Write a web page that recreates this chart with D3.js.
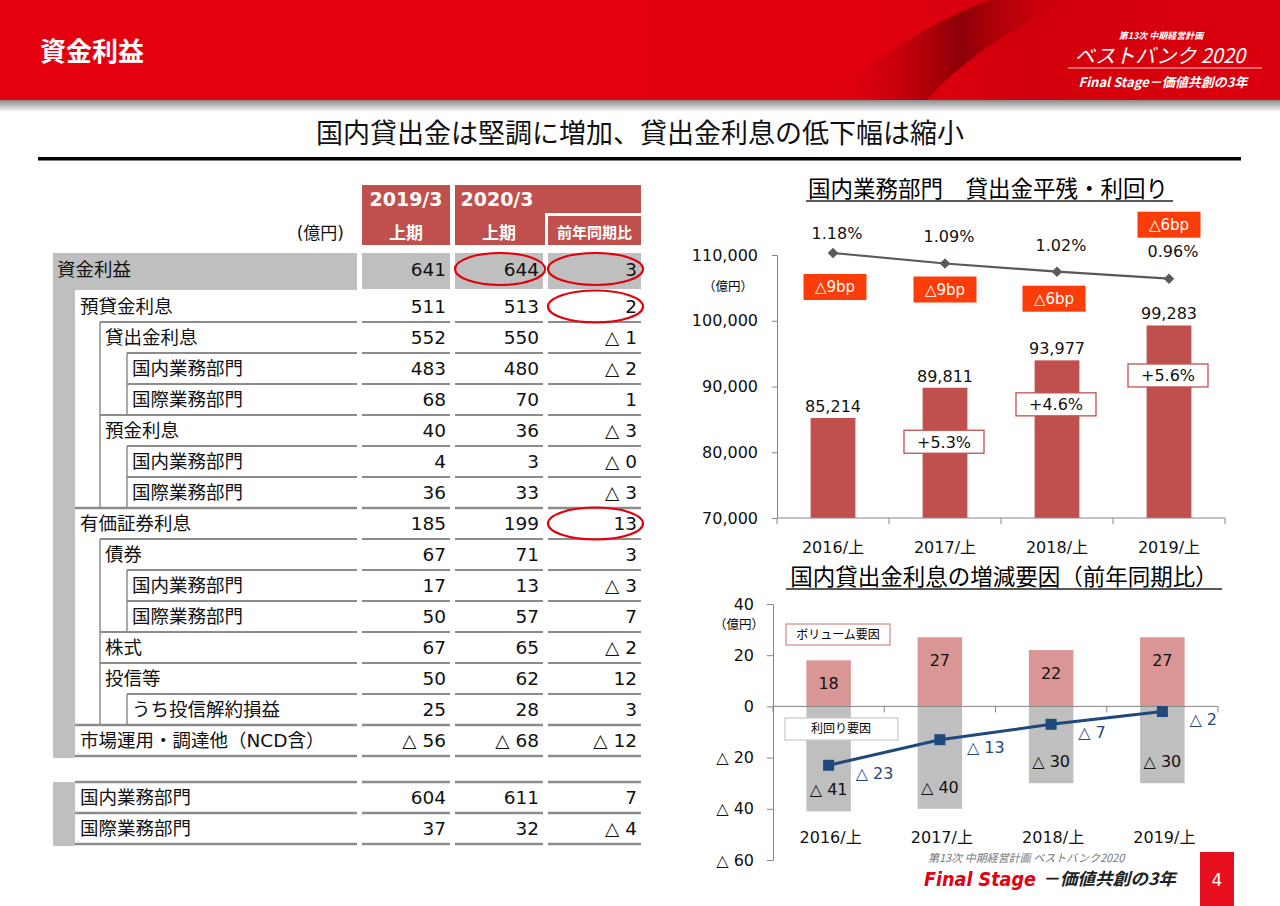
<!DOCTYPE html>
<html><head><meta charset="utf-8">
<script src="https://cdn.jsdelivr.net/npm/d3@7"></script>
<style>
body{margin:0;background:#fff;}
svg{display:block;font-family:"DejaVu Sans","Noto Sans CJK JP",sans-serif;}
</style>
</head><body>
<svg id="c" width="1280" height="906"></svg>
<script>
// ---------------- DATA ----------------
const pageTitle = "資金利益";
const headline = "国内貸出金は堅調に増加、貸出金利息の低下幅は縮小";

// table
const rowLabels = ["資金利益","預貸金利息","貸出金利息","国内業務部門","国際業務部門","預金利息","国内業務部門","国際業務部門","有価証券利息","債券","国内業務部門","国際業務部門","株式","投信等","うち投信解約損益","市場運用・調達他（NCD含）","国内業務部門","国際業務部門"];
const rowLevels = [0,1,2,3,3,2,3,3,1,2,3,3,2,2,3,1,1,1];
const fy2019H1 = [641,511,552,483,68,40,4,36,185,67,17,50,67,50,25,-56,604,37];
const fy2020H1 = [644,513,550,480,70,36,3,33,199,71,13,57,65,62,28,-68,611,32];
const yoyChange = [3,2,-1,-2,1,-3,-0,-3,13,3,-3,7,-2,12,3,-12,7,-4];
const highlighted = [[0,1],[0,2],[1,2],[8,2]]; // [row, column] circled

// chart 1
const periods = ["2016/上","2017/上","2018/上","2019/上"];
const loanBalance = [85214, 89811, 93977, 99283];
const loanYield = [1.18, 1.09, 1.02, 0.96];
const yieldChangeBp = [-9, -9, -6, -6];
const balanceGrowth = [null, 5.3, 4.6, 5.6];
const balanceTicks = [70000, 80000, 90000, 100000, 110000];

// chart 2
const volumeFactor = [18, 27, 22, 27];
const yieldFactor = [-41, -40, -30, -30];
const netChange = [-23, -13, -7, -2];
const factorTicks = [40, 20, 0, -20, -40, -60];

// ---------------- HELPERS ----------------
const tri = v => (v < 0 || Object.is(v, -0)) ? "△ " + Math.abs(v) : String(v);
const svg = d3.select("#c");
const defs = svg.append("defs");

// ---------------- HEADER ----------------
const hg = defs.append("linearGradient").attr("id","hdr").attr("x1",0).attr("x2",1).attr("y1",0).attr("y2",0);
hg.append("stop").attr("offset","0").attr("stop-color","#e5000f");
hg.append("stop").attr("offset","0.68").attr("stop-color","#e3000e");
hg.append("stop").attr("offset","0.8").attr("stop-color","#d2000c");
hg.append("stop").attr("offset","1").attr("stop-color","#dc000e");
svg.append("rect").attr("width",1280).attr("height",102).attr("fill","url(#hdr)");
const sw = defs.append("linearGradient").attr("id","sw").attr("x1",0).attr("x2",1).attr("y1",0).attr("y2",0);
sw.append("stop").attr("offset","0").attr("stop-color","#e3000e").attr("stop-opacity",0);
sw.append("stop").attr("offset","0.55").attr("stop-color","#7e0006").attr("stop-opacity",0.85);
sw.append("stop").attr("offset","1").attr("stop-color","#c4000b").attr("stop-opacity",0);
svg.append("path").attr("d","M 820 102 C 870 62, 930 22, 990 0 L 1075 0 C 1010 28, 960 62, 925 102 Z").attr("fill","url(#sw)");
const sh = defs.append("linearGradient").attr("id","sh").attr("x1",0).attr("x2",0).attr("y1",0).attr("y2",1);
sh.append("stop").attr("offset","0").attr("stop-color","#8a8a8a");
sh.append("stop").attr("offset","1").attr("stop-color","#f4f4f4");
svg.append("rect").attr("y",100).attr("width",1280).attr("height",11).attr("fill","url(#sh)");

svg.append("text").attr("x",40).attr("y",61).attr("fill","#fff").attr("font-size",26).attr("font-weight","bold")
  .attr("font-family","Noto Sans CJK JP").text(pageTitle);

const logo = svg.append("g").attr("fill","#fff").attr("font-family","Noto Sans CJK JP").attr("font-style","italic").attr("font-weight","bold");
logo.append("text").attr("x",1161).attr("y",39).attr("text-anchor","middle").attr("font-size",9).text("第13次 中期経営計画");
logo.append("text").attr("x",1160).attr("y",63).attr("text-anchor","middle").attr("font-size",20).attr("font-weight","normal").text("ベストバンク 2020");
svg.append("line").attr("x1",1068).attr("x2",1262).attr("y1",68).attr("y2",68).attr("stroke","#fff").attr("stroke-width",1.2).attr("opacity",0.8);
logo.append("text").attr("x",1163).attr("y",87).attr("text-anchor","middle").attr("font-size",13).text("Final Stage－価値共創の3年");

// headline
svg.append("text").attr("x",640).attr("y",143).attr("text-anchor","middle").attr("font-size",27)
  .attr("font-family","Noto Sans CJK JP").attr("fill","#111").text(headline);
svg.append("rect").attr("x",38).attr("y",157).attr("width",1203).attr("height",3.5).attr("fill","#000");

// ---------------- TABLE ----------------
const T = svg.append("g").attr("font-size",18.5).attr("fill","#111");
const RED = "#c0504d";
const cols = [{x:362,w:88},{x:455,w:88},{x:548,w:93}];
const labelRight = 357;
const edges = [53, 75, 100, 127];
const rowTop = i => i === 0 ? 253 : (i <= 15 ? 291 + (i-1)*31 : 782 + (i-16)*31);
const rowH = i => i === 0 ? 37 : 31;
const rowMid = i => i === 0 ? 269 : rowTop(i) + rowH(i)/2;

// header cells
T.append("rect").attr("x",cols[0].x).attr("y",185).attr("width",cols[0].w).attr("height",60).attr("fill",RED);
T.append("rect").attr("x",cols[1].x).attr("y",185).attr("width",cols[2].x+cols[2].w-cols[1].x).attr("height",60).attr("fill",RED);
T.append("path").attr("d",`M ${cols[2].x-1.5} 246 L ${cols[2].x-1.5} 214.5 L ${cols[2].x+cols[2].w} 214.5`).attr("fill","none").attr("stroke","#fff").attr("stroke-width",3);
const hdr = T.append("g").attr("fill","#fff").attr("font-weight","bold").attr("text-anchor","middle");
hdr.append("text").attr("x",cols[0].x+cols[0].w/2).attr("y",206).attr("font-size",19).text("2019/3");
hdr.append("text").attr("x",cols[1].x+42).attr("y",206).attr("font-size",19).text("2020/3");
hdr.append("text").attr("x",cols[0].x+cols[0].w/2).attr("y",239).attr("font-size",17).attr("font-family","Noto Sans CJK JP").text("上期");
hdr.append("text").attr("x",cols[1].x+cols[1].w/2).attr("y",239).attr("font-size",17).attr("font-family","Noto Sans CJK JP").text("上期");
hdr.append("text").attr("x",cols[2].x+cols[2].w/2).attr("y",238).attr("font-size",15).attr("font-family","Noto Sans CJK JP").text("前年同期比");
T.append("text").attr("x",344).attr("y",239).attr("text-anchor","end").attr("font-size",17).text("(億円)");

// gray backgrounds
const GRAY = "#bfbfbf";
T.append("rect").attr("x",53).attr("y",253).attr("width",22).attr("height",rowTop(15)+31-253+2).attr("fill",GRAY);
T.append("rect").attr("x",53).attr("y",253).attr("width",labelRight-53).attr("height",37).attr("fill",GRAY);
cols.forEach(c => T.append("rect").attr("x",c.x).attr("y",253).attr("width",c.w).attr("height",36).attr("fill",GRAY));
T.append("rect").attr("x",53).attr("y",rowTop(16)).attr("width",22).attr("height",rowTop(17)+31-rowTop(16)+2).attr("fill",GRAY);

// grid lines
const LINE = "#8c8c8c";
const hline = (x1,x2,y,w) => T.append("line").attr("x1",x1).attr("x2",x2).attr("y1",y).attr("y2",y).attr("stroke",LINE).attr("stroke-width",w);
const vline = (x,y1,y2) => T.append("line").attr("x1",x).attr("x2",x).attr("y1",y1).attr("y2",y2).attr("stroke",LINE).attr("stroke-width",1.5);
rowLabels.forEach((lab,i) => {
  if (i < 2) return;
  const y = rowTop(i);
  const w = rowLevels[i] === 1 ? 2.5 : 1.8;
  hline(edges[rowLevels[i]], labelRight, y, w);
  cols.forEach(c => hline(c.x, c.x+c.w, y, w));
  if (rowLevels[i] >= 2) vline(edges[2], y, y+31);
  if (rowLevels[i] >= 3) vline(edges[3], y, y+31);
});
[rowTop(15)+31, rowTop(17)+31].forEach(y => {
  hline(edges[1], labelRight, y, 2.5);
  cols.forEach(c => hline(c.x, c.x+c.w, y, 2.5));
});

// row text
rowLabels.forEach((lab,i) => {
  const lv = rowLevels[i];
  const y = rowMid(i);
  T.append("text").attr("x", edges[lv] + (lv === 0 ? 4 : 5)).attr("y",y).attr("dy","0.36em").text(lab);
  [fy2019H1[i], fy2020H1[i], yoyChange[i]].forEach((v,k) => {
    T.append("text").attr("x",cols[k].x+cols[k].w-4).attr("y",y).attr("dy","0.36em").attr("text-anchor","end").text(tri(v));
  });
});

// red ellipses
highlighted.forEach(([r,c]) => {
  T.append("ellipse").attr("cx",cols[c].x+cols[c].w/2+1).attr("cy",rowMid(r)).attr("rx",cols[c].w/2+1).attr("ry",16)
    .attr("fill","none").attr("stroke","#e3000b").attr("stroke-width",2.2);
});

// ---------------- CHART 1 ----------------
const C1 = svg.append("g");
const AX = "#868686";
C1.append("text").attr("x",988).attr("y",197).attr("text-anchor","middle").attr("font-size",22.5).attr("font-family","Noto Sans CJK JP").text("国内業務部門　貸出金平残・利回り");
C1.append("line").attr("x1",806).attr("x2",1173).attr("y1",201).attr("y2",201).attr("stroke","#595959").attr("stroke-width",2);

const x1 = d3.scaleBand().domain(periods).range([777,1225]).paddingInner(0.6).paddingOuter(0.3);
const y1 = d3.scaleLinear().domain([70000,110000]).range([518,255]);
const yr = d3.scaleLinear().domain([-1.09,1.18]).range([518,253]);
const cx1 = d => x1(d) + x1.bandwidth()/2;

C1.selectAll("rect.bar").data(loanBalance).join("rect").attr("class","bar")
  .attr("x",(d,i)=>x1(periods[i])).attr("width",x1.bandwidth())
  .attr("y",d=>y1(d)).attr("height",d=>y1(70000)-y1(d)).attr("fill",RED);

const ya1 = C1.append("g").attr("transform","translate(777,0)")
  .call(d3.axisLeft(y1).tickValues(balanceTicks).tickFormat(d3.format(",")).tickSize(5).tickPadding(14));
ya1.attr("font-size",16).attr("font-family",null);
ya1.selectAll("path,line").attr("stroke",AX);
ya1.selectAll("text").attr("fill","#111");
const xa1 = C1.append("g").attr("transform","translate(0,518)")
  .call(d3.axisBottom(x1).tickSize(0).tickPadding(24));
xa1.attr("font-size",16).attr("font-family",null);
xa1.select(".domain").attr("stroke",AX).attr("d","M777,0H1225");
xa1.selectAll("text").attr("fill","#111");
d3.range(periods.length+1).forEach(i => {
  const x = x1.range()[0] + i*x1.step();
  C1.append("line").attr("x1",x).attr("x2",x).attr("y1",518).attr("y2",524).attr("stroke",AX);
});
C1.append("text").attr("x",728).attr("y",291).attr("text-anchor","middle").attr("font-size",12.5).attr("font-family","Noto Sans CJK JP").text("（億円）");

// value labels
C1.selectAll("text.val").data(loanBalance).join("text").attr("class","val")
  .attr("x",(d,i)=>cx1(periods[i])).attr("y",d=>y1(d)-6).attr("text-anchor","middle").attr("font-size",16).attr("fill","#111")
  .text(d3.format(","));

// growth boxes
const growthDy = [0, 54, 44, 50];
balanceGrowth.forEach((g,i) => {
  if (g === null) return;
  const cx = cx1(periods[i]) - 1, cy = y1(loanBalance[i]) + growthDy[i];
  C1.append("rect").attr("x",cx-40).attr("y",cy-11.5).attr("width",80).attr("height",23).attr("fill","#fff").attr("stroke",RED).attr("stroke-width",1.3);
  C1.append("text").attr("x",cx).attr("y",cy).attr("dy","0.36em").attr("text-anchor","middle").attr("font-size",16).attr("fill","#111").text("+" + g.toFixed(1) + "%");
});

// yield line
const line1 = d3.line().x((d,i)=>cx1(periods[i])).y(d=>yr(d));
C1.append("path").datum(loanYield).attr("d",line1).attr("fill","none").attr("stroke","#595959").attr("stroke-width",2.2);
C1.selectAll("path.dia").data(loanYield).join("path").attr("class","dia")
  .attr("d",d3.symbol(d3.symbolSquare,56))
  .attr("transform",(d,i)=>`translate(${cx1(periods[i])},${yr(d)}) rotate(45)`).attr("fill","#595959");
const pctDy = [-20, -27, -26, -27];
C1.selectAll("text.pct").data(loanYield).join("text").attr("class","pct")
  .attr("x",(d,i)=>cx1(periods[i])+4).attr("y",(d,i)=>yr(d)+pctDy[i]).attr("dy","0.36em").attr("text-anchor","middle")
  .attr("font-size",16).attr("fill","#111").text(d=>d.toFixed(2)+"%");
const bpDy = [34, 26, 27, -54];
yieldChangeBp.forEach((b,i) => {
  const cx = cx1(periods[i]) + (i===0?2:0) - (i===2?3:0), cy = yr(loanYield[i]) + bpDy[i];
  C1.append("rect").attr("x",cx-31.5).attr("y",cy-13).attr("width",63).attr("height",26).attr("fill","#fc3d0a");
  C1.append("text").attr("x",cx).attr("y",cy).attr("dy","0.36em").attr("text-anchor","middle").attr("font-size",15).attr("fill","#fff").text("△" + Math.abs(b) + "bp");
});

// ---------------- CHART 2 ----------------
const C2 = svg.append("g");
C2.append("text").attr("x",1004).attr("y",585).attr("text-anchor","middle").attr("font-size",22.5).attr("font-family","Noto Sans CJK JP").text("国内貸出金利息の増減要因（前年同期比）");
C2.append("line").attr("x1",786).attr("x2",1222).attr("y1",589).attr("y2",589).attr("stroke","#595959").attr("stroke-width",2);

const x2 = d3.scaleBand().domain(periods).range([773,1218]).paddingInner(0.6).paddingOuter(0.3);
const y2 = d3.scaleLinear().domain([-60,40]).range([860,604]);
const cx2 = d => x2(d) + x2.bandwidth()/2;

C2.selectAll("rect.pos").data(volumeFactor).join("rect").attr("class","pos")
  .attr("x",(d,i)=>x2(periods[i])).attr("width",x2.bandwidth())
  .attr("y",d=>y2(d)).attr("height",d=>y2(0)-y2(d)).attr("fill","#da9694");
C2.selectAll("rect.neg").data(yieldFactor).join("rect").attr("class","neg")
  .attr("x",(d,i)=>x2(periods[i])).attr("width",x2.bandwidth())
  .attr("y",y2(0)).attr("height",d=>y2(d)-y2(0)).attr("fill","#bfbfbf");

const ya2 = C2.append("g").attr("transform","translate(773,0)")
  .call(d3.axisLeft(y2).tickValues(factorTicks).tickFormat(tri).tickSize(6).tickPadding(13));
ya2.attr("font-size",16).attr("font-family",null);
ya2.selectAll("path,line").attr("stroke",AX);
ya2.selectAll("text").attr("fill","#111");
C2.append("line").attr("x1",773).attr("x2",1218).attr("y1",y2(0)).attr("y2",y2(0)).attr("stroke",AX);
d3.range(periods.length+1).forEach(i => {
  const x = x2.range()[0] + i*x2.step();
  C2.append("line").attr("x1",x).attr("x2",x).attr("y1",y2(0)).attr("y2",y2(0)+6).attr("stroke",AX);
});
C2.selectAll("text.xl").data(periods).join("text").attr("class","xl")
  .attr("x",d=>cx2(d)+2).attr("y",837).attr("dy","0.36em").attr("text-anchor","middle").attr("font-size",16).attr("fill","#111").text(d=>d);
C2.append("text").attr("x",739).attr("y",629).attr("text-anchor","middle").attr("font-size",12.5).attr("font-family","Noto Sans CJK JP").text("（億円）");

C2.selectAll("text.pl").data(volumeFactor).join("text").attr("class","pl")
  .attr("x",(d,i)=>cx2(periods[i])).attr("y",d=>y2(d)+23).attr("dy","0.36em").attr("text-anchor","middle").attr("font-size",16).attr("fill","#111").text(tri);
C2.selectAll("text.nl").data(yieldFactor).join("text").attr("class","nl")
  .attr("x",(d,i)=>cx2(periods[i])).attr("y",d=>y2(d)-22).attr("dy","0.36em").attr("text-anchor","middle").attr("font-size",16).attr("fill","#111").text(tri);

const BLUE = "#1f497d";
const line2 = d3.line().x((d,i)=>cx2(periods[i])).y(d=>y2(d));
C2.append("path").datum(netChange).attr("d",line2).attr("fill","none").attr("stroke",BLUE).attr("stroke-width",3);
C2.selectAll("rect.mk").data(netChange).join("rect").attr("class","mk")
  .attr("x",(d,i)=>cx2(periods[i])-5.5).attr("y",d=>y2(d)-5.5).attr("width",11).attr("height",11).attr("fill",BLUE);
C2.selectAll("text.ll").data(netChange).join("text").attr("class","ll")
  .attr("x",(d,i)=>cx2(periods[i])+27).attr("y",d=>y2(d)+8).attr("dy","0.36em").attr("font-size",16).attr("fill",BLUE).text(tri);

// legend-like boxes
C2.append("rect").attr("x",786).attr("y",624).attr("width",104).attr("height",21).attr("fill","#fff").attr("stroke","#d08886").attr("stroke-width",1.2);
C2.append("text").attr("x",838).attr("y",634.5).attr("dy","0.36em").attr("text-anchor","middle").attr("font-size",12).attr("font-family","Noto Sans CJK JP").text("ボリューム要因");
C2.append("rect").attr("x",785).attr("y",718).attr("width",113).attr("height",22).attr("fill","#fff").attr("stroke","#c8c8c8").attr("stroke-width",1.2);
C2.append("text").attr("x",841).attr("y",729).attr("dy","0.36em").attr("text-anchor","middle").attr("font-size",12).attr("font-family","Noto Sans CJK JP").text("利回り要因");

// ---------------- FOOTER ----------------
const F = svg.append("g").attr("font-family","Noto Sans CJK JP").attr("font-style","italic");
F.append("text").attr("x",928).attr("y",862).attr("font-size",11).attr("fill","#777").text("第13次 中期経営計画 ベストバンク2020");
F.append("text").attr("x",924).attr("y",886).attr("font-size",20).attr("font-weight","900").attr("fill","#e3000f").attr("font-family","DejaVu Sans")
  .attr("textLength",112).attr("lengthAdjust","spacingAndGlyphs").text("Final Stage");
F.append("text").attr("x",1042).attr("y",885).attr("font-size",17).attr("font-weight","bold").attr("fill","#222")
  .attr("textLength",134).attr("lengthAdjust","spacingAndGlyphs").text("－価値共創の3年");
svg.append("rect").attr("x",1200).attr("y",852).attr("width",34).attr("height",54).attr("fill","#e8101e");
svg.append("text").attr("x",1217).attr("y",880).attr("dy","0.36em").attr("text-anchor","middle").attr("font-size",17).attr("fill","#fff").text("4");
</script>
</body></html>
